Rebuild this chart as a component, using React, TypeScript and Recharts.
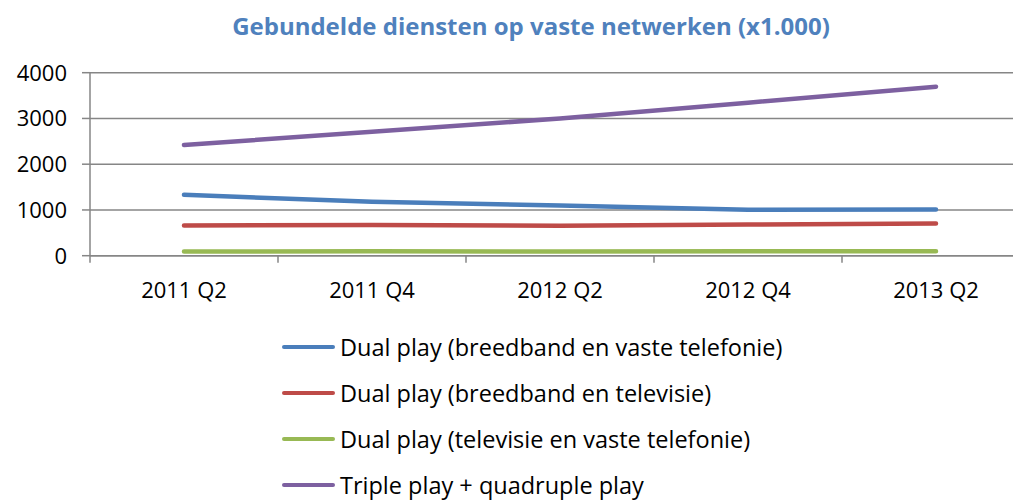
import { LineChart, Line, XAxis, YAxis, CartesianGrid } from 'recharts'

const quarters = ['2011 Q2', '2011 Q4', '2012 Q2', '2012 Q4', '2013 Q2']
const dualBelTel = [1330, 1180, 1095, 1005, 1010]
const dualBelTv = [660, 670, 655, 680, 705]
const dualTvTel = [90, 100, 90, 95, 95]
const triplePlay = [2420, 2710, 3000, 3345, 3695]
const yTicks = [0, 1000, 2000, 3000, 4000]

const series = [
  { key: 'a', name: 'Dual play (breedband en vaste telefonie)', values: dualBelTel, color: '#4A7EBB' },
  { key: 'b', name: 'Dual play (breedband en televisie)', values: dualBelTv, color: '#BE4B48' },
  { key: 'c', name: 'Dual play (televisie en vaste telefonie)', values: dualTvTel, color: '#98B954' },
  { key: 'd', name: 'Triple play + quadruple play', values: triplePlay, color: '#7D60A0' },
]

const data = quarters.map((q, i) => {
  const row: Record<string, string | number> = { q }
  series.forEach((s) => {
    row[s.key] = s.values[i]
  })
  return row
})

const FONT = '"Open Sans", sans-serif'
const GRID = '#868686'
const CHART_W = 1022
const CHART_H = 494
const AXIS_W = 82
const BAND = (CHART_W - AXIS_W) / quarters.length

function XTick(props: any) {
  const { x, y, payload } = props
  const left = x - BAND / 2
  return (
    <g>
      <line x1={left} x2={left} y1={y} y2={y + 7} stroke={GRID} strokeWidth={1.5} />
      <text x={x} y={y + 42} textAnchor="middle" fill="#000" fontSize={22} fontFamily={FONT}>
        {payload.value}
      </text>
    </g>
  )
}

export default function App() {
  return (
    <div style={{ position: 'relative', width: 1013, height: CHART_H, overflow: 'hidden', fontFamily: FONT }}>
      <div
        style={{
          position: 'absolute',
          left: 523,
          top: 4,
          transform: 'translateX(-50%)',
          whiteSpace: 'nowrap',
          fontSize: 24,
          lineHeight: '28px',
          fontWeight: 700,
          color: '#4F81BD',
        }}
      >
        Gebundelde diensten op vaste netwerken (x1.000)
      </div>
      <LineChart
        width={CHART_W}
        height={CHART_H}
        data={data}
        margin={{ top: 64.7, right: 0, left: 0, bottom: CHART_H - 247.7 - 40 }}
      >
        <CartesianGrid horizontal vertical={false} stroke={GRID} strokeWidth={1.5} />
        <XAxis
          dataKey="q"
          height={40}
          padding={{ left: BAND / 2, right: BAND / 2 }}
          tickSize={0}
          tickMargin={0}
          tickLine={false}
          axisLine={{ stroke: GRID, strokeWidth: 1.5 }}
          tick={<XTick />}
          interval={0}
        />
        <YAxis
          width={AXIS_W}
          domain={[0, 4000]}
          ticks={yTicks}
          interval={0}
          tickSize={8}
          tickMargin={15}
          tickLine={{ stroke: GRID, strokeWidth: 1.5 }}
          axisLine={{ stroke: GRID, strokeWidth: 1.5 }}
          tick={{ fill: '#000', fontSize: 22, fontFamily: FONT }}
        />
        {series.map((s) => (
          <Line
            key={s.key}
            dataKey={s.key}
            name={s.name}
            stroke={s.color}
            strokeWidth={4.5}
            strokeLinecap="round"
            strokeLinejoin="round"
            dot={false}
            activeDot={false}
            isAnimationActive={false}
          />
        ))}
      </LineChart>
      <div style={{ position: 'absolute', left: 274, top: 316 }}>
        {series.map((s) => (
          <div key={s.key} style={{ display: 'flex', alignItems: 'center', height: 46 }}>
            <div style={{ width: 53, height: 4.5, borderRadius: 3, background: s.color, marginRight: 5 }} />
            <span style={{ fontSize: 23.5, color: '#000', whiteSpace: 'nowrap' }}>{s.name}</span>
          </div>
        ))}
      </div>
    </div>
  )
}
